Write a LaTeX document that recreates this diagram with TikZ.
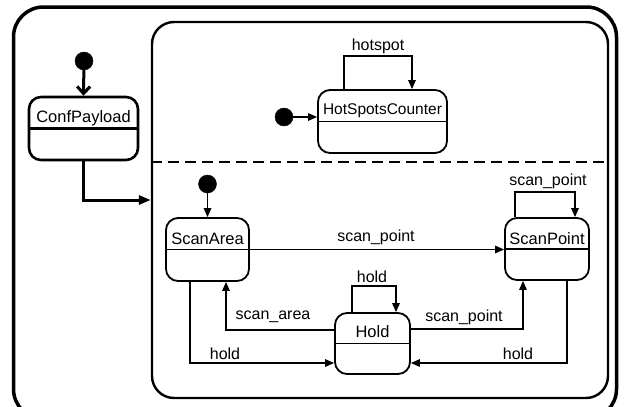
\documentclass[tikz,border=0pt]{standalone}
\usepackage{fontspec}
\setmainfont{Liberation Sans}
\usetikzlibrary{arrows.meta,calc}

\tikzset{
  statebox/.style={draw, line width=1.8pt, rounded corners=12pt, inner sep=0pt},
  statename/.style={font=\fontsize{16.5}{18}\selectfont, inner sep=0pt},
  trlabel/.style={font=\fontsize{16}{18}\selectfont, inner sep=0pt},
  initdot/.style={circle, fill=black, draw=black, minimum size=18pt, inner sep=0pt},
  trans/.style={line width=1.4pt, -{Triangle[length=9pt,width=7.5pt]}},
  divider/.style={line width=1.6pt},
}

\begin{document}
\begin{tikzpicture}[x=1pt, y=-1pt]
\useasboundingbox (0,0) rectangle (624,407);

% outer superstate
\node[draw, line width=3.5pt, rounded corners=30pt, minimum width=603pt, minimum height=412pt, inner sep=0pt]
  (outer) at (315,213) {};

% ConfPayload state with its initial pseudostate
\node[initdot] (cpinit) at (84,61) {};
\node[statebox, line width=2.6pt, minimum width=109pt, minimum height=63pt] (cp) at (83.5,128.5) {};
\draw[line width=2.6pt] (cp.west) -- (cp.east);
\node[statename] (cpname) at ([yshift=10.5pt]cp.center) {ConfPayload};
\draw[line width=3pt, -{Straight Barb[length=7pt,width=13pt]}] (cpinit) -- (cp.north);

% orthogonal region container
\node[draw, line width=2.4pt, rounded corners=22pt, minimum width=456pt, minimum height=376pt, inner sep=0pt]
  (region) at (380,210) {};
\coordinate (regionin) at ([yshift=10pt]region.west);
\draw[line width=3pt, -{Triangle[length=12pt,width=9pt]}] (cp.south) |- (regionin);

% dashed separator between the concurrent regions
\coordinate (sepl) at ([yshift=48pt]region.west);
\coordinate (sepr) at ([yshift=48pt]region.east);
\draw[line width=2pt, dash pattern=on 11pt off 6pt] (sepl) -- (sepr);

% upper region: HotSpotsCounter
\node[initdot] (hsinit) at (284,117) {};
\node[statebox, minimum width=129pt, minimum height=63pt] (hs) at (382.5,121.5) {};
\draw[divider] (hs.west) -- (hs.east);
\node[statename, font=\fontsize{15.5}{18}\selectfont] (hsname) at ([yshift=11pt]hs.center) {HotSpotsCounter};
\draw[trans] (hsinit) -- (hsinit -| hs.west);
\draw[trans] ([xshift=-38.5pt]hs.north) -- ++(0,-33) -| ([xshift=29.5pt]hs.north);
\node[trlabel] (lhotspot) at (378,46) {hotspot};

% lower region: ScanArea, ScanPoint, Hold
\node[initdot] (sainit) at (207.5,184) {};
\node[statebox, minimum width=83pt, minimum height=63pt] (sa) at (207.5,249.5) {};
\draw[divider] (sa.west) -- (sa.east);
\node[statename] (saname) at ([yshift=10.5pt]sa.center) {ScanArea};
\draw[trans] (sainit) -- (sa.north);

\node[statebox, minimum width=84pt, minimum height=62pt] (sp) at (547,249) {};
\draw[divider] (sp.west) -- (sp.east);
\node[statename] (spname) at ([yshift=10pt]sp.center) {ScanPoint};

\node[statebox, minimum width=75pt, minimum height=61pt] (hd) at (372.5,343.5) {};
\draw[divider] (hd.west) -- (hd.east);
\node[statename] (hdname) at ([yshift=12pt]hd.center) {Hold};

% transitions
\draw[trans] (sa.east) -- (sa.east -| sp.west);
\node[trlabel] (l1) at (376,237) {scan\_point};

\draw[trans] ([xshift=-32pt]sp.north) -- ++(0,-25) -| ([xshift=28pt]sp.north);
\node[trlabel] (l2) at (548,181) {scan\_point};

\draw[trans] ([xshift=-20.5pt]hd.north) -- ++(0,-26) -| ([xshift=23.5pt]hd.north);
\node[trlabel] (l3) at (372,277) {hold};

\draw[trans] ([yshift=13.5pt]hd.west) -| ([xshift=18.5pt]sa.south);
\node[trlabel] (l4) at (273,317) {scan\_area};

\draw[trans] ([xshift=-17.5pt]sa.south) |- ([yshift=-19.5pt]hd.west);
\node[trlabel] (l5) at (225,354) {hold};

\draw[trans] ([yshift=14.5pt]hd.east) -| ([xshift=-24pt]sp.south);
\node[trlabel] (l6) at (464,317) {scan\_point};

\draw[trans] ([xshift=20pt]sp.south) |- ([yshift=-19.5pt]hd.east);
\node[trlabel] (l7) at (518,354) {hold};
\end{tikzpicture}
\end{document}
